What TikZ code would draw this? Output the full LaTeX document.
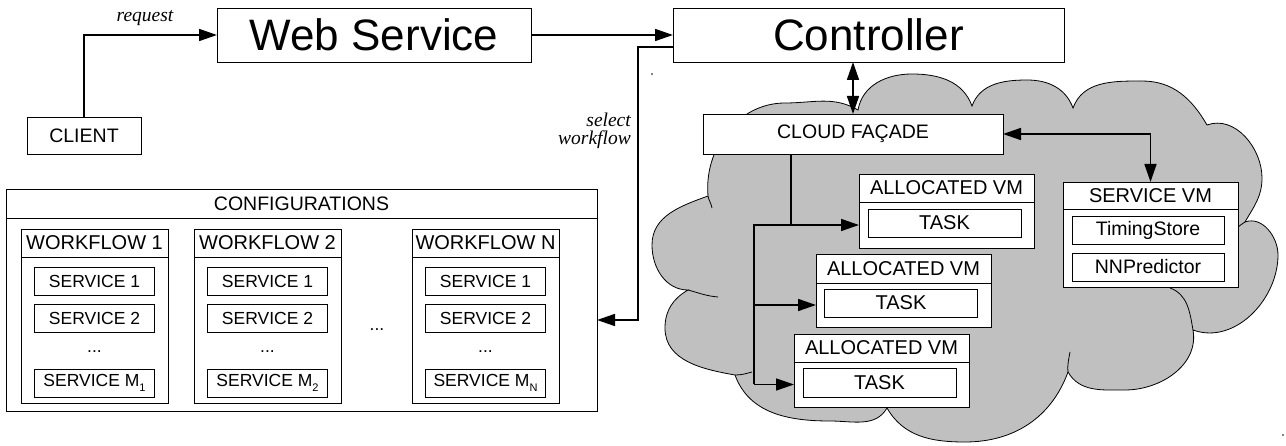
\documentclass[tikz,border=0pt]{standalone}
\usepackage{fontspec}
\setmainfont{Liberation Sans}
\newfontfamily\labelfont{Liberation Serif}
\usetikzlibrary{arrows.meta}
\definecolor{cloudgray}{RGB}{192,192,192}
\newcommand\setfs[1]{\fontsize{#1}{#1}\selectfont}
\newcommand\subidx[1]{\raisebox{-5pt}{\setfs{11}#1}}
\tikzset{
  box/.style={draw, fill=white, line width=0.9pt, inner sep=0pt, outer sep=0pt, font={\setfs{19.5}}},
  bigbox/.style={box, font={\setfs{44}}},
  svc/.style={box, font={\setfs{17.5}}, minimum width=120pt, minimum height=28pt},
  wfhead/.style={box, font={\setfs{20}}, minimum width=147pt, minimum height=28pt},
  wfbody/.style={box, minimum width=147pt, minimum height=146pt},
  vmhead/.style={box, font={\setfs{20}}, minimum width=175pt},
  vmbody/.style={box, minimum width=175pt},
  task/.style={box, font={\setfs{20}}, minimum width=153pt, minimum height=28pt},
  conn/.style={line width=1.6pt, -{Triangle[length=18pt,width=12pt]}},
  dconn/.style={line width=1.6pt, {Triangle[length=18pt,width=12pt]}-{Triangle[length=18pt,width=12pt]}},
  plain/.style={line width=1.6pt},
  lbl/.style={font={\labelfont\itshape\setfs{19.5}}, inner sep=0pt},
  cloudline/.style={line width=0.8pt, draw=black},
  dotstyle/.style={fill=black, draw=none}
}
\begin{document}
\begin{tikzpicture}[x=1pt,y=-1pt]
\useasboundingbox (0,0) rectangle (1286,446);

% cloud
\path[cloudline, fill=cloudgray]
  (708,196) to[out=95,in=180] (785,103) to[out=0,in=150] (858,110)
  to[out=80,in=180] (912,74) to[out=0,in=110] (972,106)
  to[out=70,in=180] (1027,80) to[out=0,in=110] (1073,108)
  to[out=70,in=180] (1142,81) to[out=0,in=120] (1207,125)
  to[out=20,in=90] (1262,178) to[out=-90,in=60] (1245,222)
  to[out=20,in=90] (1278,255) to[out=-90,in=-20] (1193,330)
  to[out=-80,in=0] (1125,390) to[out=180,in=-60] (1068,372)
  to[out=-110,in=0] (965,442) to[out=180,in=-60] (887,408)
  to[out=-120,in=0] (830,421) to[out=180,in=-70] (735,375)
  to[out=170,in=-90] (665,328) to[out=90,in=-150] (688,290)
  to[out=180,in=-90] (652,245) to[out=90,in=-160] (708,196)
  -- cycle;
\draw[cloudline] (1193,330) to[out=100,in=-20] (1170,288);
\draw[cloudline] (688,290) to[out=-15,in=175] (718,297);
\draw[cloudline] (735,375) to[out=0,in=195] (752,372);
\draw[cloudline] (1068,372) to[out=95,in=-100] (1070,352);
\draw[cloudline] (708,196) to[out=-80,in=100] (712,208);
\draw[cloudline] (1245,222) to[out=-150,in=40] (1237,228);

% stray dots
\fill[dotstyle] (652,74) circle (0.9);
\fill[dotstyle] (1283,435) circle (0.9);

% top row
\node[box, minimum width=114pt, minimum height=37pt] (client) at (84,135.5) {CLIENT};
\node[bigbox, minimum width=314pt, minimum height=54pt] (web) at (374,35) {Web Service};
\node[bigbox, minimum width=391pt, minimum height=54pt] (ctrl) at (868.5,35) {Controller};

% configurations
\node[box, minimum width=591pt, minimum height=29pt] (confh) at (301.5,203.5) {CONFIGURATIONS};
\node[box, minimum width=591pt, minimum height=193pt] (confb) at (301.5,314.5) {};

\foreach \n/\cx/\lab/\sub in {1/94.5/1/1, 2/267.5/2/2, 3/485.5/N/N}{
  \node[wfbody] (wfb\n) at (\cx,330) {};
  \node[wfhead] (wfh\n) at (\cx,243) {WORKFLOW \lab};
  \node[svc] (s1w\n) at (\cx,281) {SERVICE 1};
  \node[svc] (s2w\n) at (\cx,318) {SERVICE 2};
  \node[font={\setfs{17.5}}, inner sep=0pt] (dw\n) at (\cx,352) {...};
  \node[svc] (smw\n) at (\cx,383) {SERVICE M\subidx{\sub}};
}
\node[font={\setfs{17.5}}, inner sep=0pt] (dmid) at (377,330) {...};

% cloud content
\node[box, minimum width=300pt, minimum height=40pt] (facade) at (853,134) {CLOUD FAÇADE};

\node[vmhead, minimum height=28pt] (vm1h) at (946.5,188) {ALLOCATED VM};
\node[vmbody, minimum height=46pt] (vm1b) at (946.5,225) {};
\node[task] (t1) at (944.5,223) {TASK};

\node[vmhead, minimum height=29pt] (vm2h) at (903.5,268.5) {ALLOCATED VM};
\node[vmbody, minimum height=44pt] (vm2b) at (903.5,305) {};
\node[task] (t2) at (901,303) {TASK};

\node[vmhead, minimum height=28pt] (vm3h) at (881.5,348) {ALLOCATED VM};
\node[vmbody, minimum height=45pt] (vm3b) at (881.5,384.5) {};
\node[task, minimum height=29pt] (t3) at (879.5,382.5) {TASK};

\node[vmhead, minimum height=27pt] (svmh) at (1150.5,195.5) {SERVICE VM};
\node[vmbody, minimum height=78pt] (svmb) at (1150.5,248) {};
\node[box, minimum width=152pt, minimum height=28pt] (ts) at (1148,230) {TimingStore};
\node[box, minimum width=152pt, minimum height=28pt] (nn) at (1148,267) {NNPredictor};

% labels
\node[lbl] (req) at (145,18) {request};
\node[lbl, anchor=east, align=right] (selwf) at (631,131) {select\\[-1.5pt]workflow};

% connectors
\draw[conn] (client.north) |- (web.west);
\draw[conn] (web.east) -- (ctrl.west);
\draw[conn] ([yshift=-12pt]ctrl.west) -- ++(-35,0) |- ([yshift=-5.5pt]confb.east);
\draw[dconn] (facade.north |- ctrl.south) -- (facade.north);
\draw[dconn] (facade.east) -| (svmh.north);
\coordinate (fj) at (791,225);
\coordinate (tr) at (754,225);
\draw[conn] ([xshift=-62pt]facade.south) |- (vm1b.west);
\draw[plain] (fj) -- (tr) -- (tr |- vm3b.west);
\draw[conn] (tr |- vm2b.west) -- (vm2b.west);
\draw[conn] (tr |- vm3b.west) -- (vm3b.west);
\end{tikzpicture}
\end{document}
